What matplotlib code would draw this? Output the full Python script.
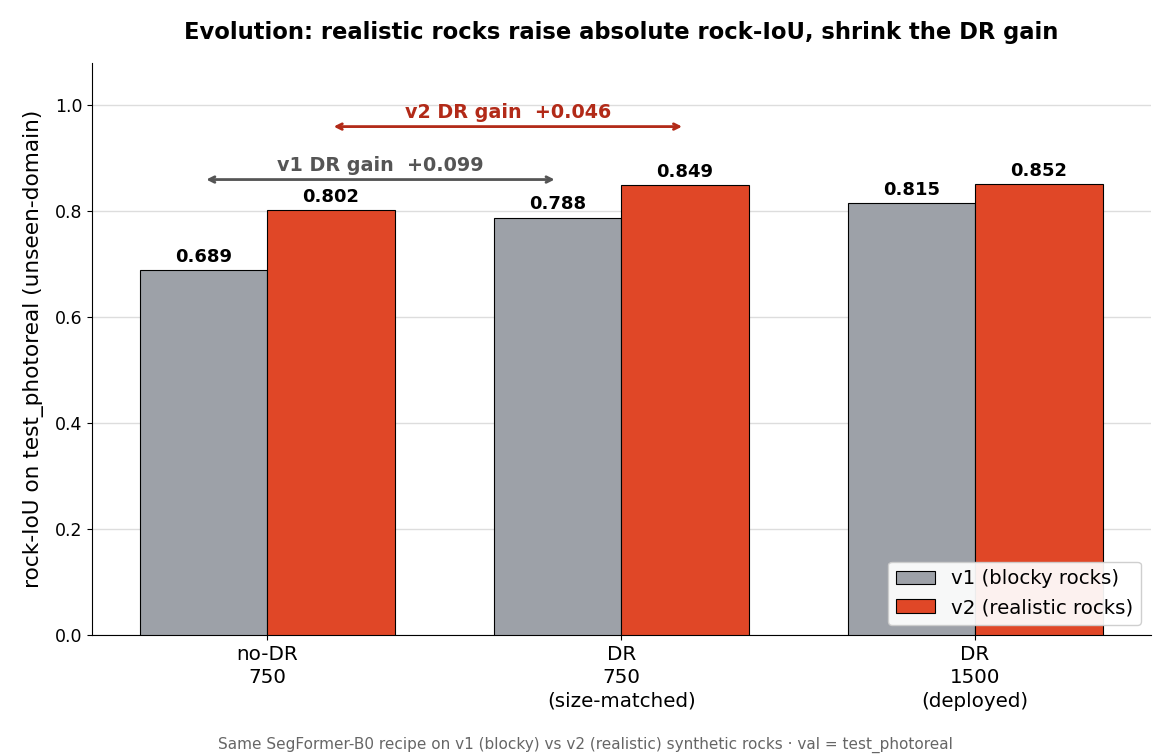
import matplotlib
matplotlib.use("Agg")
import matplotlib.pyplot as plt
import numpy as np

categories = ["no-DR\n750", "DR\n750\n(size-matched)", "DR\n1500\n(deployed)"]
v1_values = [0.689, 0.788, 0.815]
v2_values = [0.802, 0.849, 0.852]
series_labels = ["v1 (blocky rocks)", "v2 (realistic rocks)"]
v1_gain = 0.099
v2_gain = 0.046

gray = "#9da1a8"
red = "#e04727"

fig = plt.figure(figsize=(11.7, 7.54), dpi=100)
ax = fig.add_axes([0.0786, 0.1578, 0.9052, 0.7586])

x = np.arange(len(categories))
w = 0.36
b1 = ax.bar(x - w/2, v1_values, w, color=gray, edgecolor="black", linewidth=0.8, label=series_labels[0], zorder=3)
b2 = ax.bar(x + w/2, v2_values, w, color=red, edgecolor="black", linewidth=0.8, label=series_labels[1], zorder=3)

for bars in (b1, b2):
    for r in bars:
        ax.text(r.get_x() + r.get_width()/2, r.get_height() + 0.008, f"{r.get_height():.3f}",
                ha="center", va="bottom", fontsize=13, fontweight="bold", zorder=4)

# v1 gain arrow
ax.annotate("", xy=(x[1] - w/2, 0.86), xytext=(x[0] - w/2, 0.86),
            arrowprops=dict(arrowstyle="<->", color="#555555", lw=2), zorder=5)
ax.text((x[0] + x[1]) / 2 - w/2, 0.868, f"v1 DR gain  +{v1_gain:.3f}", ha="center", va="bottom",
        fontsize=13.8, fontweight="bold", color="#555555")
# v2 gain arrow
ax.annotate("", xy=(x[1] + w/2, 0.96), xytext=(x[0] + w/2, 0.96),
            arrowprops=dict(arrowstyle="<->", color="#b22a18", lw=2), zorder=5)
ax.text((x[0] + x[1]) / 2 + w/2, 0.968, f"v2 DR gain  +{v2_gain:.3f}", ha="center", va="bottom",
        fontsize=13.8, fontweight="bold", color="#b22a18")

ax.set_xlim(-0.495, 2.497)
ax.set_ylim(0, 1.08)
ax.set_xticks(x)
ax.set_xticklabels(categories, fontsize=14.3, linespacing=1.3)
ax.tick_params(axis="y", labelsize=12.5)
ax.set_ylabel("rock-IoU on test_photoreal (unseen-domain)", fontsize=15.6, labelpad=8)
ax.set_title("Evolution: realistic rocks raise absolute rock-IoU, shrink the DR gain",
             fontsize=16.3, fontweight="bold", pad=17)
ax.yaxis.grid(True, color="#dddddd", linewidth=1, zorder=0)
ax.set_axisbelow(True)
ax.spines["top"].set_visible(False)
ax.spines["right"].set_visible(False)
ax.legend(loc="lower right", fontsize=14.2, framealpha=0.93)

fig.text(0.5, 0.001, "Same SegFormer-B0 recipe on v1 (blocky) vs v2 (realistic) synthetic rocks · val = test_photoreal",
         ha="center", va="bottom", fontsize=11, color="#666666")

fig.savefig("out.png", dpi=100)
